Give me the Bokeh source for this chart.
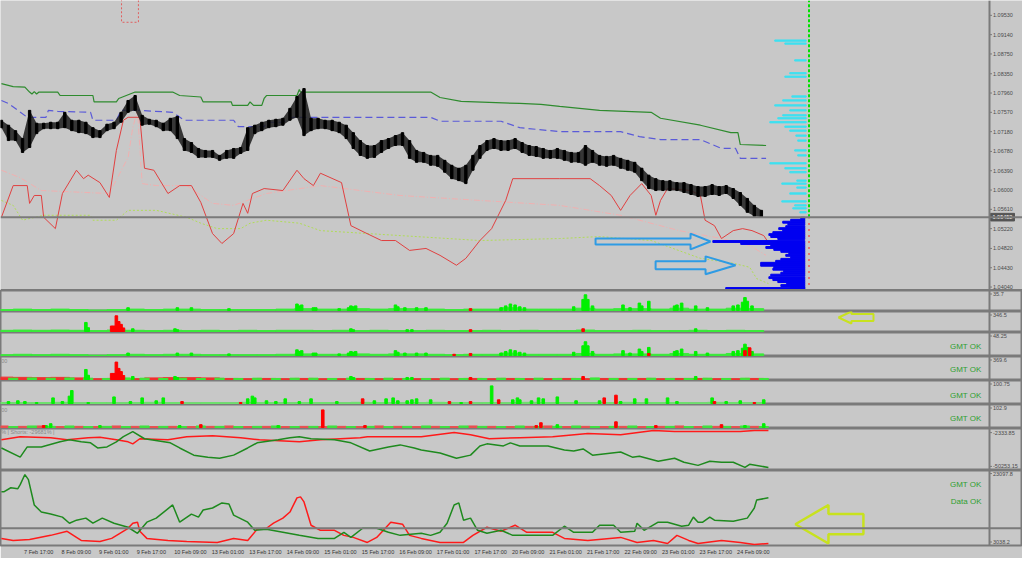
from bokeh.plotting import figure
from bokeh.layouts import column
from bokeh.models import Range1d, FixedTicker, Span
from bokeh.embed import file_html
from bokeh.resources import INLINE
from bokeh.core.properties import value

# ---------------- data ----------------
tick_bars = [0, 16, 32, 48, 64, 80, 96, 112, 128, 144, 160, 176, 192, 208, 224, 240, 256, 272, 288, 304]
tick_labels = ["7 Feb 17:00", "8 Feb 09:00", "9 Feb 01:00", "9 Feb 17:00", "10 Feb 09:00",
               "13 Feb 01:00", "13 Feb 17:00", "14 Feb 09:00", "15 Feb 01:00", "15 Feb 17:00",
               "16 Feb 09:00", "17 Feb 01:00", "17 Feb 17:00", "20 Feb 09:00", "21 Feb 01:00",
               "21 Feb 17:00", "22 Feb 09:00", "23 Feb 01:00", "23 Feb 17:00", "24 Feb 09:00"]

candle_x = list(range(-9, 316, 3))
candle_hi = [1.0741, 1.0731, 1.0720, 1.0704, 1.0761, 1.0735, 1.0735, 1.0737, 1.0737, 1.0757,
             1.0741, 1.0741, 1.0737, 1.0726, 1.0720, 1.0733, 1.0737, 1.0757, 1.0781, 1.0791,
             1.0751, 1.0743, 1.0741, 1.0735, 1.0745, 1.0749, 1.0704, 1.0696, 1.0684, 1.0680,
             1.0680, 1.0670, 1.0680, 1.0684, 1.0686, 1.0726, 1.0731, 1.0737, 1.0741, 1.0743,
             1.0745, 1.0765, 1.0789, 1.0805, 1.0745, 1.0745, 1.0741, 1.0741, 1.0737, 1.0731,
             1.0716, 1.0700, 1.0690, 1.0690, 1.0700, 1.0704, 1.0710, 1.0716, 1.0700, 1.0680,
             1.0676, 1.0670, 1.0670, 1.0660, 1.0650, 1.0644, 1.0650, 1.0670, 1.0690, 1.0700,
             1.0704, 1.0700, 1.0700, 1.0704, 1.0696, 1.0690, 1.0688, 1.0684, 1.0680, 1.0684,
             1.0680, 1.0676, 1.0676, 1.0690, 1.0680, 1.0670, 1.0668, 1.0670, 1.0664, 1.0660,
             1.0656, 1.0644, 1.0630, 1.0623, 1.0619, 1.0619, 1.0615, 1.0615, 1.0611, 1.0607,
             1.0607, 1.0611, 1.0607, 1.0609, 1.0603, 1.0595, 1.0583, 1.0569, 1.0559]
candle_lo = [1.0726, 1.0700, 1.0700, 1.0676, 1.0686, 1.0714, 1.0724, 1.0724, 1.0724, 1.0726,
             1.0720, 1.0716, 1.0714, 1.0706, 1.0706, 1.0720, 1.0724, 1.0737, 1.0757, 1.0761,
             1.0731, 1.0733, 1.0728, 1.0720, 1.0720, 1.0704, 1.0680, 1.0676, 1.0666, 1.0666,
             1.0666, 1.0660, 1.0664, 1.0664, 1.0674, 1.0680, 1.0714, 1.0720, 1.0726, 1.0728,
             1.0731, 1.0741, 1.0747, 1.0710, 1.0720, 1.0724, 1.0724, 1.0720, 1.0716, 1.0704,
             1.0684, 1.0670, 1.0664, 1.0666, 1.0676, 1.0684, 1.0690, 1.0690, 1.0664, 1.0656,
             1.0656, 1.0650, 1.0648, 1.0636, 1.0623, 1.0619, 1.0613, 1.0640, 1.0664, 1.0680,
             1.0684, 1.0680, 1.0680, 1.0684, 1.0676, 1.0670, 1.0668, 1.0664, 1.0664, 1.0664,
             1.0660, 1.0656, 1.0656, 1.0650, 1.0656, 1.0650, 1.0648, 1.0650, 1.0644, 1.0640,
             1.0636, 1.0619, 1.0603, 1.0599, 1.0599, 1.0599, 1.0599, 1.0595, 1.0591, 1.0587,
             1.0587, 1.0591, 1.0589, 1.0593, 1.0583, 1.0569, 1.0555, 1.0547, 1.0545]

chan_hi_x = [-9, -4, 1, 3, 4, 5, 6, 7, 15, 16, 30, 30.5, 40, 41, 48, 64, 67, 76, 77, 89, 89.5,
             96, 97, 98.5, 102, 103, 104, 117, 118, 118.5, 174, 178, 187, 212, 221, 229, 246,
             268, 272, 289, 302, 305, 306, 317]
chan_hi_y = [1.0815, 1.0809, 1.0808, 1.0798, 1.0794, 1.0799, 1.0794, 1.0798, 1.0798, 1.0791,
             1.0791, 1.0778, 1.0778, 1.0785, 1.0798, 1.0798, 1.0791, 1.0788, 1.0778, 1.0778,
             1.0771, 1.0771, 1.0778, 1.0771, 1.0771, 1.0785, 1.0791, 1.0791, 1.0803, 1.0798,
             1.0798, 1.0787, 1.0779, 1.0775, 1.0773, 1.0769, 1.0761, 1.0757, 1.0745, 1.0731,
             1.0716, 1.0716, 1.0692, 1.0690]

chan_mid_x = [-9, -6, 2, 10, 11, 15, 29, 30, 40, 42, 50, 64, 69, 90, 92, 103, 104, 111, 115,
              174, 178, 204, 212, 229, 255, 263, 272, 289, 298, 304, 306, 317]
chan_mid_y = [1.0781, 1.0775, 1.0747, 1.0747, 1.0761, 1.0759, 1.0757, 1.0741, 1.0741, 1.0761,
              1.0761, 1.0757, 1.0741, 1.0741, 1.0728, 1.0728, 1.0737, 1.0737, 1.0747, 1.0747,
              1.0739, 1.0739, 1.0726, 1.0718, 1.0718, 1.0708, 1.0702, 1.0702, 1.0684, 1.0684,
              1.0664, 1.0664]

red_x = [-9, -4, 2, 3, 5, 8, 9, 14, 17, 23, 26, 28, 33, 37, 40, 43, 45, 50, 52, 56,
         62, 67, 72, 76, 81, 85, 90, 94, 96, 98, 103, 111, 117, 120, 124, 127, 136, 140, 146, 153,
         159, 165, 172, 178, 185, 189, 195, 200, 206, 209, 229, 242, 246, 251, 255, 259, 264, 268,
         270, 272, 275, 285, 289, 291, 295, 298, 303, 307, 311, 316, 318]
red_y = [1.0545, 1.0609, 1.0609, 1.0573, 1.0589, 1.0589, 1.0545, 1.0522, 1.0593, 1.0640,
         1.0623, 1.0630, 1.0615, 1.0585, 1.0680, 1.0741, 1.0747, 1.0747, 1.0644, 1.0640,
         1.0593, 1.0609, 1.0609, 1.0575, 1.0512, 1.0492, 1.0512, 1.0573, 1.0553, 1.0593,
         1.0603, 1.0599, 1.0640, 1.0623, 1.0609, 1.0634, 1.0615, 1.0528, 1.0514, 1.0498,
         1.0498, 1.0478, 1.0482, 1.0468, 1.0448, 1.0462, 1.0498, 1.0522, 1.0579, 1.0623,
         1.0623, 1.0623, 1.0609, 1.0589, 1.0559, 1.0589, 1.0613, 1.0589, 1.0549, 1.0579,
         1.0603, 1.0599, 1.0589, 1.0539, 1.0528, 1.0502, 1.0518, 1.0522, 1.0518, 1.0508, 1.0494]

pink_x = [-9, -1, 8, 37, 45, 47, 49, 51, 57, 70, 81, 90, 104, 127, 161, 195, 229, 255, 280, 298, 310, 317]
pink_y = [1.0640, 1.0625, 1.0599, 1.0593, 1.0666, 1.0726, 1.0761, 1.0613, 1.0609, 1.0609, 1.0573,
          1.0569, 1.0593, 1.0609, 1.0589, 1.0579, 1.0569, 1.0549, 1.0518, 1.0502, 1.0488, 1.0468]

lime_x = [-9, -4, 0, 9, 29, 30, 40, 45, 57, 70, 76, 83, 93, 97, 104, 118, 127, 161, 195, 229,
          246, 268, 289, 303, 310, 313, 318]
lime_y = [1.0579, 1.0569, 1.0539, 1.0549, 1.0549, 1.0539, 1.0539, 1.0559, 1.0559, 1.0545,
          1.0533, 1.0522, 1.0522, 1.0533, 1.0539, 1.0533, 1.0518, 1.0508, 1.0498, 1.0502,
          1.0506, 1.0498, 1.0462, 1.0452, 1.0444, 1.0421, 1.0411]

current_price = 1.05452
price_ticks = [1.0953, 1.0914, 1.0875, 1.0835, 1.0796, 1.0757, 1.0718, 1.0678, 1.0639,
               1.0600, 1.0561, 1.0522, 1.0482, 1.0443, 1.0404]

prof_up_p = [1.0902, 1.0896, 1.0862, 1.0836, 1.0829, 1.0789, 1.0781, 1.0771, 1.0761, 1.0751,
             1.0745, 1.0737, 1.0728, 1.0720, 1.0710, 1.0700, 1.0680, 1.0670, 1.0654, 1.0644,
             1.0636, 1.0619, 1.0613, 1.0605, 1.0593, 1.0577, 1.0569, 1.0563, 1.0555]
prof_up_len = [12.8, 8.5, 4.3, 6.4, 8.5, 5.5, 9.4, 12.8, 6.4, 9.4, 11.5, 14.9, 8.5, 6.4, 3.8,
               3.0, 4.3, 3.0, 14.9, 8.5, 6.4, 3.4, 9.8, 3.4, 6.4, 9.8, 4.3, 5.1, 2.1]
prof_dn_p = [1.0543, 1.0539, 1.0535, 1.0531, 1.0526, 1.0522, 1.0518, 1.0514, 1.0510, 1.0506,
             1.0502, 1.0496, 1.0492, 1.0488, 1.0484, 1.0480, 1.0476, 1.0472, 1.0468, 1.0464,
             1.0460, 1.0456, 1.0452, 1.0448, 1.0444, 1.0440, 1.0436, 1.0432, 1.0428, 1.0423,
             1.0419, 1.0415, 1.0411, 1.0407, 1.0403, 1.0401]
prof_dn_len = [1.7, 6.0, 9.4, 7.2, 8.1, 11.1, 9.4, 13.6, 15.3, 14.5, 11.5, 39.2, 27.3, 14.5,
               16.6, 13.2, 10.2, 6.8, 8.1, 6.0, 10.2, 12.4, 18.8, 18.8, 13.2, 13.6, 9.0, 10.2,
               14.5, 15.3, 13.6, 11.5, 7.7, 10.2, 6.0, 33.7]

# volume-type sub windows
fuzz_x = list(range(-8, 313, 8))
fuzz_a = [2, 3, 2, 3, 2, 1, 2, 3, 2, 3, 3, 2, 2, 2, 2, 3, 4, 3, 3, 4,
          3, 4, 4, 3, 2, 3, 3, 6, 3, 3, 3, 5, 3, 4, 4, 3, 5, 3, 3, 5, 4]
fuzz_b = [25, 30, 25, 30, 25, 20, 30, 25, 20, 25, 20, 25, 20, 25, 20, 25, 25, 20, 25, 20,
          25, 20, 20, 25, 20, 20, 25, 20, 25, 20, 20, 30, 20, 20, 25, 20, 20, 25, 20, 25, 20]
fuzz_e = [45, 40, 35, 40, 30, 15, 20, 15, 30, 35, 35, 30, 20, 15, 20, 15, 20, 15, 15, 20,
          15, 15, 15, 15, 15, 20, 15, 20, 15, 15, 20, 15, 20, 20, 20, 15, 20, 20, 15, 15, 20]
fuzz_c = [5, 4, 5, 6, 4, 5, 4, 5, 6, 5, 4, 5, 4, 6, 5, 4, 5, 5, 4, 6,
          5, 4, 5, 6, 5, 4, 5, 4, 6, 5, 5, 4, 5, 6, 4, 5, 5, 4, 6, 5, 4]
fuzz_d_red = [8, 6, 8, 5, 6, 5, 8, 6, 5, 6, 5, 6, 8, 5, 6, 5, 6, 5, 6, 5,
              8, 6, 5, 6, 5, 8, 6, 5, 6, 8, 5, 6, 5, 6, 5, 6, 8, 5, 6, 5, 6]
fuzz_d_green = [5, 8, 6, 8, 5, 6, 5, 8, 6, 5, 8, 6, 5, 6, 8, 5, 6, 8, 5, 6,
                5, 6, 8, 5, 8, 6, 5, 8, 5, 6, 8, 5, 6, 8, 5, 6, 5, 8, 6, 8, 5]

vol_a_idx = [45, 66, 72, 88, 117, 118, 119, 124, 125, 135, 139, 140, 141, 142, 159, 160, 163, 168,
             172, 204, 206, 208, 210, 212, 214, 235, 239, 240, 241, 243, 256, 259, 263, 264, 267,
             278, 279, 281, 287, 292, 303, 305, 307, 308, 309, 311]
vol_a = [6, 6, 6, 4, 14, 10, 12, 6, 6, 4, 6, 10, 8, 10, 12, 8, 6, 6, 6, 6, 10, 14, 12, 8, 6,
         8, 24, 34, 24, 10, 12, 6, 16, 10, 20, 10, 12, 16, 10, 6, 10, 12, 18, 28, 20, 10]
vol_a_red_idx = [191]
vol_a_red = [4]
vol_p4_red_idx = [184, 191, 267, 308, 310]
vol_p4_red = [3, 5, 5, 12, 19]

vol_b_idx = [27, 28, 47, 65, 66, 140, 141, 164, 166, 287]
vol_b = [190, 80, 57, 57, 38, 57, 38, 38, 38, 57]
vol_b_red_idx = [38, 39, 40, 41, 42, 43, 191, 239]
vol_b_red = [115, 115, 330, 210, 150, 75, 38, 57]

vol_c_idx = [-6, -2, 1, 6, 13, 17, 20, 21, 28, 39, 46, 51, 57, 60, 96, 98, 99, 104, 108, 112, 118,
             123, 134, 150, 155, 158, 160, 164, 166, 168, 174, 187, 200, 209, 211, 212, 217, 220,
             222, 228, 236, 246, 255, 261, 266, 275, 279, 294, 300, 306, 316]
vol_c = [10, 14, 10, 5, 29, 10, 38, 67, 5, 34, 10, 29, 14, 29, 24, 38, 29, 14, 10, 24, 10,
         24, 10, 14, 24, 29, 14, 14, 19, 24, 19, 5, 91, 19, 29, 19, 14, 29,
         24, 34, 14, 14, 10, 24, 24, 29, 10, 29, 10, 14, 19]
vol_c_red_idx = [68, 93, 145, 182, 191, 203, 248, 253, 295, 312]
vol_c_red = [10, 5, 24, 10, 10, 19, 29, 43, 10, 5]

vol_d_idx = [10, 12, 33, 67, 109, 228, 308, 316]
vol_d = [10, 20, 10, 10, 10, 15, 10, 20]
vol_d_red_idx = [9, 76, 128, 146, 219, 221, 253, 270, 298]
vol_d_red = [10, 15, 93, 10, 10, 25, 30, 10, 15]

# long / short percentage window
p8_red_x = [-9, -1, 12, 19, 28, 33, 40, 45, 47, 50, 62, 70, 81, 93, 101, 118, 127, 144, 147, 170,
            184, 191, 199, 212, 226, 241, 255, 269, 278, 283, 298, 306, 312, 318]
p8_red_y = [-12499, -8142, -9594, -12499, -9594, -9000, -12499, -15403, -18307, -11046,
            -12499, -8142, -6690, -9594, -12499, -15403, -12499, -9594, -8142, -8142,
            -2334, -5238, -11046, -9594, -8142, -3786, -5238, 570, -882, -882,
            -882, -882, 570, 570]
p8_green_x = [-9, -1, 2, 8, 16, 20, 25, 29, 32, 36, 40, 43, 47, 52, 63, 67, 73, 79, 84, 90,
              96, 100, 109, 114, 118, 123, 133, 140, 148, 156, 161, 167, 170, 178, 185, 191, 195,
              198, 205, 208, 212, 224, 231, 235, 239, 243, 255, 260, 263, 271, 278, 282, 288,
              293, 298, 303, 308, 310, 318]
p8_green_y = [-24115, -37184, -22663, -22663, -15403, -12499, -15403, -16855, -24115, -22663,
              -15403, -8142, -882, -11046, -16855, -24115, -34280, -37184, -38636, -34280,
              -24115, -16855, -12499, -9594, -8142, -11046, -12499, -16855, -28472, -22663,
              -19759, -24115, -27019, -31376, -38636, -34280, -21211, -18307, -21211, -16855,
              -21211, -21211, -27019, -28472, -25567, -34280, -29924, -37184, -35732, -42993,
              -38636, -44445, -48801, -42993, -44445, -44445, -51705, -47349, -51705]

# bottom window
p9_green_x = [-9, -8, -5, -2, -1, 1, 2.5, 5, 8, 12, 17, 20, 23, 27, 30, 34, 39, 45, 49, 53,
              57, 64, 67, 72, 75, 77, 81, 85, 88, 90, 96, 99, 104, 111, 118, 126, 133, 137, 140, 145,
              151, 156, 161, 170, 174, 178, 181, 184, 186, 188, 191, 194, 198, 204, 209, 226, 231,
              235, 243, 246, 252, 255, 261, 262, 265, 271, 275, 281, 284, 286, 288, 290, 293, 295,
              303, 309, 312, 313, 318]
p9_green_y = [18013, 18013, 19143, 18860, 19990, 22815, 21403, 14340, 12363, 11798,
              10950, 9255, 10103, 10668, 9255, 10668, 9255, 8125, 6430, 9538,
              10668, 14340, 9538, 11798, 10950, 12928, 13493, 14905, 14623, 11515,
              9538, 7278, 7560, 6713, 5865, 5018, 5018, 6713, 5300, 7843,
              7843, 6713, 5865, 6430, 5865, 6713, 9255, 14340, 14905, 10103,
              10668, 7278, 6430, 7278, 5865, 5865, 8408, 6713, 6713, 8690,
              8690, 6713, 6995, 9255, 7278, 9538, 9538, 8408, 8690, 10950,
              9538, 9538, 10950, 10103, 9820, 10668, 13493, 15753, 16318]
p9_red_x = [-9, -4, 3, 12, 19, 25, 33, 38, 45, 47, 49, 50, 53, 62, 70, 83, 90, 96, 100, 104,
            107, 111, 114, 117, 118.5, 120, 123, 127, 133, 137, 141, 147, 151, 157, 162, 165, 170,
            178, 188, 192, 198, 204, 210, 215, 226, 231, 241, 255, 262, 269, 275, 279, 284, 288,
            298, 306, 312, 318]
p9_red_y = [5018, 4453, 4735, 5865, 6995, 4453, 4170, 5018, 7843, 9255,
            9538, 6995, 5018, 4453, 4170, 3888, 5018, 4453, 7560, 7843,
            9255, 10668, 12363, 16318, 16600, 15188, 8690, 7278, 7278, 5865,
            5300, 3888, 5300, 9538, 8973, 5865, 5018, 3888, 3888, 5865,
            8125, 6995, 8690, 6713, 6713, 5018, 4453, 5300, 3888, 4453,
            3605, 5865, 4453, 3605, 4453, 3888, 3323, 3605]
p9_level = 7843

# hand-drawn marks on the screenshot
blue_arrow1_x = [244.3, 284.8, 284.8, 293.3, 284.8, 284.8, 244.3]
blue_arrow1_y = [1.0502, 1.0502, 1.0512, 1.0496, 1.0480, 1.0490, 1.0490]
blue_arrow2_x = [269.9, 291.2, 291.2, 304.0, 291.2, 291.2, 269.9]
blue_arrow2_y = [1.0456, 1.0456, 1.0466, 1.0448, 1.0430, 1.0440, 1.0440]
yellow_small_x = [347.9, 353.4, 353.4, 362.8, 362.8, 353.4, 353.4, 347.9]
yellow_small_y = [294, 420, 368, 368, 220, 220, 168, 294]
yellow_big_x = [329.5, 343.6, 343.6, 358.5, 358.5, 343.6, 343.6, 329.5]
yellow_big_y = [8973, 14340, 11798, 11798, 6148, 6148, 3605, 8973]

# ---------------- styling ----------------
W = 1022
PX_PER_BAR = 2.3455
BG = "#c8c8c8"
EDGE = "#7a7a7a"
AXIS_TXT = "#4a4a4a"
FONT = "Liberation Sans"
LIME = "#00f000"
RED = "#ff0000"
OK_GREEN = "#2f9f2f"
X0 = -9.4
PX = 1 / PX_PER_BAR
xr = Range1d(X0, X0 + W * PX)
AX = X0 + 989 * PX          # price-scale separator
X_TEXT_R = X0 + 981 * PX


def make_panel(h, yr, labels, bottom=0, xaxis=False, outline=True):
    p = figure(width=W, height=h + bottom, x_range=xr, y_range=Range1d(*yr),
               output_backend="svg", toolbar_location=None,
               x_axis_location="below" if xaxis else None, y_axis_location=None,
               min_border_left=0, min_border_right=0, min_border_top=0, min_border_bottom=bottom,
               background_fill_color=BG, border_fill_color=BG,
               outline_line_color=EDGE if outline else None, outline_line_width=2)
    p.grid.visible = False
    p.add_layout(Span(location=AX, dimension="height", line_color=EDGE, line_width=2))
    ys = [v for v, _ in labels]
    p.segment(x0=[AX] * len(ys), y0=ys, x1=[AX + 2.5 * PX] * len(ys), y1=ys,
              line_color=EDGE, line_width=1)
    p.text(x=[AX + 3.5 * PX] * len(ys), y=ys, text=[s for _, s in labels],
           text_font=value(FONT), text_font_size="5.5px", text_color=AXIS_TXT,
           text_align="left", text_baseline="middle")
    return p


def vol_range(top_tick, h):
    u = top_tick / (h - 4.5)
    return (-u, -u + u * h)


def ypos(rng, h, px_from_top):
    return rng[1] - (rng[1] - rng[0]) * px_from_top / h


def text(p, x, y, s, color, size, align="right"):
    p.text(x=[x], y=[y], text=[s], text_color=color, text_font_size=size,
           text_font=value(FONT), text_align=align, text_baseline="middle")


figs = []

# ---- main price window ----
MH = 290
PR = (1.0397, 1.0983)
PY = (PR[1] - PR[0]) / MH
main = make_panel(MH, PR, [(v, "%.5f" % v) for v in price_ticks], outline=False)
main.line(chan_hi_x, chan_hi_y, line_color="#2e8b2e", line_width=1.2)
main.line(chan_mid_x, chan_mid_y, line_color="#5a5ad8", line_width=1.2, line_dash="7 4")
main.line(pink_x, pink_y, line_color="#f0b0b0", line_width=1, line_dash="6 2 1 2")
main.line(lime_x, lime_y, line_color="#b0dc58", line_width=1, line_dash="2 2")
main.line(red_x, red_y, line_color="#e04040", line_width=1)
main.add_layout(Span(location=current_price, dimension="width", line_color=EDGE, line_width=2))
main.varea(x=candle_x, y1=candle_lo, y2=candle_hi, fill_color="#1c1c1c", fill_alpha=0.85)
main.vbar(x=candle_x, width=1.0, top=candle_hi, bottom=candle_lo, color="#000000")
ANCHOR = 333.5
main.hbar(y=prof_up_p, left=[ANCHOR - v for v in prof_up_len], right=ANCHOR + 0.6,
          height=0.00026, color="#3fe0f0")
main.hbar(y=prof_dn_p, left=[ANCHOR - v for v in prof_dn_len], right=ANCHOR,
          height=0.00038, color="#0000f0")
main.segment(x0=[335.3], y0=[current_price], x1=[335.3], y1=[PR[1]],
             line_color="#00e000", line_width=2, line_dash="3 2")
main.segment(x0=[335.3], y0=[PR[0]], x1=[335.3], y1=[current_price - 0.0002],
             line_color="#ff2020", line_width=2, line_dash="1 5")
main.patch(blue_arrow1_x, blue_arrow1_y, fill_alpha=0, line_color="#2e9be4", line_width=2)
main.patch(blue_arrow2_x, blue_arrow2_y, fill_alpha=0, line_color="#2e9be4", line_width=2)
main.quad(left=[42.2], right=[49.4], top=[1.0990], bottom=[1.0939], fill_alpha=0,
          line_color="#e06060", line_dash="2 2", line_width=1)
main.add_layout(Span(location=PR[0] + 0.5 * PY, dimension="width", line_color=EDGE, line_width=2))
main.quad(left=[AX + 1 * PX], right=[AX + 25 * PX], top=[current_price + 3.8 * PY],
          bottom=[current_price - 3.8 * PY], color="#555555")
main.text(x=[AX + 3 * PX], y=[current_price], text=["%.5f" % current_price],
          text_font=value(FONT), text_font_size="5.5px", text_color="white",
          text_align="left", text_baseline="middle")
figs.append(main)

# ---- P2 ----
h = 21
r2 = vol_range(35.7, h)
p2 = make_panel(h, r2, [(35.7, "35.7")])
p2.vbar(x=fuzz_x, width=8, top=fuzz_a, bottom=0, color="#3aea3a")
p2.vbar(x=vol_a_idx, width=1.1, top=vol_a, bottom=0, color=LIME)
p2.vbar(x=vol_a_red_idx, width=1.1, top=vol_a_red, bottom=0, color=RED)
figs.append(p2)

# ---- P3 ----
r3 = vol_range(346.5, h)
p3 = make_panel(h, r3, [(346.5, "346.5")])
p3.vbar(x=fuzz_x, width=8, top=fuzz_b, bottom=0, color="#3aea3a")
p3.vbar(x=vol_b_idx, width=1.1, top=vol_b, bottom=0, color=LIME)
p3.vbar(x=vol_b_red_idx, width=1.1, top=vol_b_red, bottom=0, color=RED)
p3.patch(yellow_small_x, yellow_small_y, fill_alpha=0, line_color="#c8e21e", line_width=2)
figs.append(p3)

# ---- P4 ----
h = 24
r4 = vol_range(48.25, h)
p4 = make_panel(h, r4, [(48.25, "48.25")])
p4.vbar(x=fuzz_x, width=8, top=fuzz_a, bottom=0, color="#3aea3a")
p4.vbar(x=vol_a_idx, width=1.1, top=vol_a, bottom=0, color=LIME)
p4.vbar(x=vol_p4_red_idx, width=1.1, top=vol_p4_red, bottom=0, color=RED)
text(p4, X_TEXT_R, ypos(r4, h, 14), "GMT OK", OK_GREEN, "8px")
figs.append(p4)

# ---- P5 ----
r5 = vol_range(369.6, h)
p5 = make_panel(h, r5, [(369.6, "369.6")])
p5.vbar(x=fuzz_x, width=8, top=fuzz_e, bottom=0, color="#f03030")
p5.vbar(x=[x + 4 for x in fuzz_x], width=4, top=fuzz_b, bottom=0, color="#3aea3a")
p5.vbar(x=vol_b_idx, width=1.1, top=vol_b, bottom=0, color=LIME)
p5.vbar(x=vol_b_red_idx, width=1.1, top=vol_b_red, bottom=0, color=RED)
text(p5, X_TEXT_R, ypos(r5, h, 13), "GMT OK", OK_GREEN, "8px")
text(p5, X0 + 0.3, ypos(r5, h, 4), "00", "#8a8a8a", "5.5px", align="left")
figs.append(p5)

# ---- P6 ----
r6 = vol_range(100.75, h)
p6 = make_panel(h, r6, [(100.75, "100.75")])
p6.vbar(x=fuzz_x, width=8, top=fuzz_c, bottom=0, color="#6ee06e")
p6.vbar(x=vol_c_idx, width=1.1, top=vol_c, bottom=0, color=LIME)
p6.vbar(x=vol_c_red_idx, width=1.1, top=vol_c_red, bottom=0, color=RED)
text(p6, X_TEXT_R, ypos(r6, h, 15), "GMT OK", OK_GREEN, "8px")
figs.append(p6)

# ---- P7 ----
r7 = vol_range(102.9, h)
p7 = make_panel(h, r7, [(102.9, "102.9")])
p7.vbar(x=fuzz_x, width=4, top=fuzz_d_red, bottom=0, color="#e85050")
p7.vbar(x=[x + 4 for x in fuzz_x], width=4, top=fuzz_d_green, bottom=0, color="#40e040")
p7.vbar(x=vol_d_idx, width=1.1, top=vol_d, bottom=0, color=LIME)
p7.vbar(x=vol_d_red_idx, width=1.1, top=vol_d_red, bottom=0, color=RED)
text(p7, X_TEXT_R, ypos(r7, h, 14), "GMT OK", OK_GREEN, "8px")
text(p7, X0 + 0.3, ypos(r7, h, 5), "00", "#8a8a8a", "5.5px", align="left")
figs.append(p7)

# ---- P8 ----
h = 42
r8 = (-56061, 3474)
p8 = make_panel(h, r8, [(-2333.85, "-2333.85"), (-50253.15, "-50253.15")])
p8.line(p8_red_x, p8_red_y, line_color="#ff1a1a", line_width=1.5)
p8.line(p8_green_x, p8_green_y, line_color="#1e8a1e", line_width=1.5)
text(p8, X0 + 0.3, ypos(r8, h, 3.5), "% | Shorts: -29681% |", "#8a8a8a", "5.5px", align="left")
figs.append(p8)

# ---- P9 with time axis ----
h = 75
r9 = (3038.2, 23945)
p9 = make_panel(h, r9, [(23097.8, "23097.8"), (ypos(r9, h, 71.5), "3038.2")], bottom=13, xaxis=True)
p9.add_layout(Span(location=p9_level, dimension="width", line_color=EDGE, line_width=2))
p9.line(p9_red_x, p9_red_y, line_color="#ff1a1a", line_width=1.5)
p9.line(p9_green_x, p9_green_y, line_color="#1e8a1e", line_width=1.5)
p9.patch(yellow_big_x, yellow_big_y, fill_alpha=0, line_color="#c8e21e", line_width=2.5)
text(p9, X_TEXT_R, ypos(r9, h, 14), "GMT OK", OK_GREEN, "8px")
text(p9, X_TEXT_R, ypos(r9, h, 31), "Data OK", OK_GREEN, "8px")

CW = {" ": 1.53, ":": 1.53, "F": 3.36, "e": 3.06, "b": 3.06}
label_pos = []
for t, s in zip(tick_bars, tick_labels):
    w = sum(CW.get(c, 3.06) for c in s)
    label_pos.append(t + (1.5 + w / 2) * PX)
xa = p9.xaxis[0]
xa.ticker = FixedTicker(ticks=label_pos)
xa.major_label_overrides = {pos: s for pos, s in zip(label_pos, tick_labels)}
xa.major_label_text_font_size = "5.5px"
xa.major_label_text_font = FONT
xa.major_label_text_color = "#333333"
xa.major_tick_out = 0
xa.major_tick_in = 0
xa.minor_tick_out = 0
xa.minor_tick_in = 0
xa.axis_line_color = None
xa.major_label_standoff = 3
figs.append(p9)

layout = column(*figs, spacing=0)
open("out.html", "w").write(file_html(layout, INLINE))
